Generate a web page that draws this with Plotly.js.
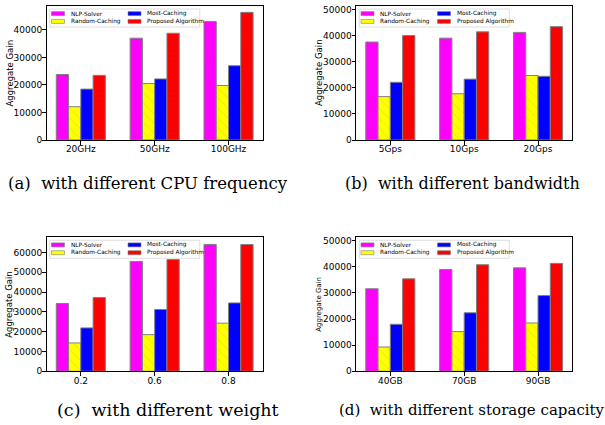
<!DOCTYPE html>
<html><head><meta charset="utf-8">
<script src="https://cdn.plot.ly/plotly-3.0.1.min.js"></script>
<style>html,body{margin:0;padding:0;background:#fff}#chart{width:605px;height:425px}</style>
</head><body><div id="chart"></div><script>
// ---- data ----
const seriesNames = ['NLP-Solver', 'Random-Caching', 'Most-Caching', 'Proposed Algorithm'];

const cpuLabels   = ['20GHz', '50GHz', '100GHz'];
const cpuNLP      = [23800, 37000, 43100];
const cpuRandom   = [12100, 20500, 19800];
const cpuMost     = [18500, 22200, 27000];
const cpuProposed = [23500, 38800, 46400];

const bwLabels    = ['5Gps', '10Gps', '20Gps'];
const bwNLP       = [37500, 39000, 41200];
const bwRandom    = [16600, 17700, 24700];
const bwMost      = [22100, 23300, 24400];
const bwProposed  = [40000, 41400, 43400];

const wLabels     = ['0.2', '0.6', '0.8'];
const wNLP        = [34200, 55400, 64000];
const wRandom     = [14300, 18500, 24300];
const wMost       = [21900, 31200, 34500];
const wProposed   = [37200, 56400, 64000];

const sLabels     = ['40GB', '70GB', '90GB'];
const sNLP        = [31600, 39000, 39600];
const sRandom     = [9300, 15200, 18500];
const sMost       = [18000, 22400, 29000];
const sProposed   = [35400, 40800, 41300];

const yTitle = 'Aggregate Gain';
const captions = ['(a)\u00a0 with different CPU frequency', '(b)\u00a0 with different bandwidth',
                  '(c)\u00a0 with different weight', '(d)\u00a0 with different storage capacity'];

// ---- styles ----
const W = 605, H = 425, PW = 216, PH = 134;
const colors   = ['#ff00ff', '#ffff00', '#0000ff', '#ff0000'];
const patterns = ['x', '\\', '', '+'];
const patSize  = [7, 7, 7, 5];
const edge = 'rgb(128,128,128)';

const panels = [
  {left: 46.5, top: 6,     cats: cpuLabels, vals: [cpuNLP, cpuRandom, cpuMost, cpuProposed], ymax: 48700, tsize: 8.5, toff: 37, cap: [148, 183], csize: 16.5},
  {left: 356,  top: 6,     cats: bwLabels,  vals: [bwNLP, bwRandom, bwMost, bwProposed],     ymax: 51300, tsize: 8.5, toff: 37, cap: [462, 183], csize: 16},
  {left: 46.5, top: 237.3, cats: wLabels,   vals: [wNLP, wRandom, wMost, wProposed],         ymax: 67600, tsize: 8.5, toff: 37, cap: [168, 410], csize: 17.5},
  {left: 356,  top: 237.3, cats: sLabels,   vals: [sNLP, sRandom, sMost, sProposed],         ymax: 51300, tsize: 7,   toff: 36.5, cap: [472, 410], csize: 15}
];

const traces = [];
const layout = {
  width: W, height: H, margin: {l: 0, r: 0, t: 0, b: 0},
  paper_bgcolor: '#fff', plot_bgcolor: '#fff',
  barmode: 'group', bargap: 0.335, bargroupgap: 0,
  showlegend: false,
  font: {family: 'DejaVu Sans', color: '#000'},
  shapes: [], annotations: []
};

panels.forEach((p, k) => {
  const sx = k === 0 ? '' : String(k + 1);
  const xa = 'x' + sx, ya = 'y' + sx;
  p.vals.forEach((v, i) => {
    traces.push({
      type: 'bar', x: p.cats, y: v, name: seriesNames[i], xaxis: xa, yaxis: ya,
      marker: {
        color: colors[i],
        line: {color: edge, width: 1},
        pattern: {shape: patterns[i], bgcolor: colors[i], fgcolor: 'rgba(90,90,90,0.5)',
                  size: patSize[i], solidity: 0.08, fillmode: 'overlay'}
      },
      hoverinfo: 'none'
    });
  });
  const axCommon = {
    showline: true, mirror: true, linecolor: '#000', linewidth: 1,
    ticks: 'outside', ticklen: 3.5, tickwidth: 1, tickcolor: '#000',
    showgrid: false, zeroline: false, tickfont: {family: 'DejaVu Sans', size: 9, color: '#000'}
  };
  layout['xaxis' + sx] = Object.assign({}, axCommon, {
    type: 'category', range: [-0.465, 2.46], anchor: ya, ticklabelstandoff: -3,
    domain: [p.left / W, (p.left + PW) / W]
  });
  layout['yaxis' + sx] = Object.assign({}, axCommon, {
    range: [0, p.ymax], dtick: 10000, tick0: 0, anchor: xa, tickformat: 'd', ticklabelstandoff: -2,
    domain: [1 - (p.top + PH) / H, 1 - p.top / H]
  });

  const xr = xa + ' domain', yr = ya + ' domain';
  // y-axis title
  layout.annotations.push({xref: xr, yref: yr, x: -p.toff / PW, y: 0.5, textangle: -90,
    xanchor: 'center', yanchor: 'middle', showarrow: false, text: yTitle,
    font: {family: 'DejaVu Sans', size: p.tsize, color: '#000'}});

  // legend (compact, matplotlib-like)
  layout.shapes.push({type: 'rect', xref: xr, yref: yr, layer: 'above',
    x0: 3.3 / PW, x1: 153.3 / PW, y0: 1 - 21 / PH, y1: 1 - 3 / PH,
    fillcolor: 'rgba(255,255,255,0.85)', line: {color: '#d6d6d6', width: 0.8}});
  seriesNames.forEach((nm, i) => {
    const col = Math.floor(i / 2), row = i % 2;
    const sx0 = 5 + col * 76.5, cy = 7.6 + row * 7.8;
    layout.shapes.push({type: 'rect', xref: xr, yref: yr, layer: 'above',
      x0: sx0 / PW, x1: (sx0 + 13) / PW, y0: 1 - (cy + 2) / PH, y1: 1 - (cy - 2) / PH,
      fillcolor: colors[i], line: {color: edge, width: 0.6}});
    layout.annotations.push({xref: xr, yref: yr, x: (sx0 + 17) / PW, y: 1 - cy / PH,
      xanchor: 'left', yanchor: 'middle', showarrow: false, text: nm,
      font: {family: 'DejaVu Sans', size: 5.8, color: '#000'}});
  });

  layout.annotations.push({xref: 'paper', yref: 'paper', x: p.cap[0] / W, y: 1 - p.cap[1] / H,
    xanchor: 'center', yanchor: 'middle', showarrow: false, text: captions[k],
    font: {family: 'DejaVu Serif', size: p.csize, color: '#000'}});
});

Plotly.newPlot('chart', traces, layout, {staticPlot: true, displayModeBar: false});
</script></body></html>
